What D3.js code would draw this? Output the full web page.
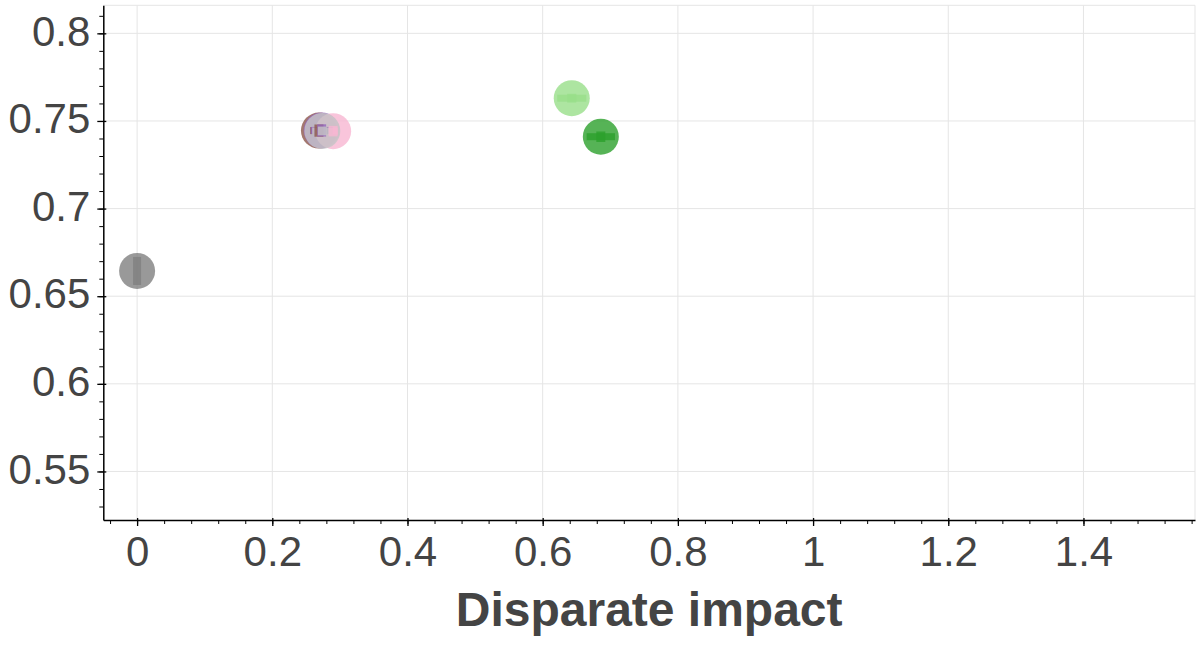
<!DOCTYPE html>
<html>
<head>
<meta charset="utf-8">
<script src="https://cdn.jsdelivr.net/npm/d3@7"></script>
<style>
  body { margin: 0; background: #fff; }
  svg { display: block; font-family: "Liberation Sans", Arial, Helvetica, sans-serif; }
  .grid line { stroke: #e5e5e5; stroke-width: 1; }
  .axis path, .axis line { stroke: #000; }
  .axis path { stroke-width: 1.5; }
  .axis text { fill: #444; font-size: 42px; }
</style>
</head>
<body>
<svg id="chart"></svg>
<script>
// Data
const seriesNames = ["gray", "brown", "purple", "pink", "silver", "lightgreen", "green"];
const xValues = [0.000, 0.269, 0.273, 0.290, 0.274, 0.643, 0.686];
const yValues = [0.6644, 0.7445, 0.7446, 0.7442, 0.7443, 0.7630, 0.7410];
const xErrors = [0.000, 0.013, 0.016, 0.007, 0.015, 0.0215, 0.021];
const yErrors = [0.008, 0.0035, 0.0035, 0.003, 0.0025, 0.0025, 0.003];
const palette = ["#7f7f7f", "#8c564b", "#9467bd", "#f7b6d2", "#c7c7c7", "#98df8a", "#2ca02c"];

const xMajorTicks = [0, 0.2, 0.4, 0.6, 0.8, 1, 1.2, 1.4];
const yMajorTicks = [0.55, 0.6, 0.65, 0.7, 0.75, 0.8];
const xTitle = "Disparate impact";

const width = 1200, height = 650;
const margin = {top: 5.3, right: 5, bottom: 130, left: 103.3};

const svg = d3.select("#chart").attr("width", width).attr("height", height);

const x = d3.scaleLinear().domain([-0.05, 1.565]).range([margin.left, width - margin.right]);
const y = d3.scaleLinear().domain([0.5223, 0.816]).range([height - margin.bottom, margin.top]);
const color = d3.scaleOrdinal().domain(seriesNames).range(palette);

const points = seriesNames.map((name, i) => ({
    name: name, x: xValues[i], y: yValues[i], xErr: xErrors[i], yErr: yErrors[i]
}));

const xMinor = d3.range(-1, 40).map(i => +(i * 0.04).toFixed(2));
const yMinor = d3.range(53, 82).map(i => +(i * 0.01).toFixed(2));
const fmt = d3.format("~g");

// Gridlines
const grid = svg.append("g").attr("class", "grid");
grid.selectAll(".gx").data(xMajorTicks).enter().append("line")
    .attr("x1", d => x(d)).attr("x2", d => x(d))
    .attr("y1", y.range()[0]).attr("y2", y.range()[1]);
grid.selectAll(".gy").data(yMajorTicks).enter().append("line")
    .attr("x1", x.range()[0]).attr("x2", x.range()[1])
    .attr("y1", d => y(d)).attr("y2", d => y(d));
// frame top and right
grid.append("line").attr("x1", x.range()[0]).attr("x2", x.range()[1])
    .attr("y1", y.range()[1]).attr("y2", y.range()[1]);
grid.append("line").attr("x1", x.range()[1]).attr("x2", x.range()[1])
    .attr("y1", y.range()[0]).attr("y2", y.range()[1]);

// Markers
svg.append("g").selectAll("circle")
    .data(points).enter().append("circle")
    .attr("cx", d => x(d.x))
    .attr("cy", d => y(d.y))
    .attr("r", 18)
    .attr("fill", d => color(d.name))
    .attr("fill-opacity", 0.8);

// Error bars (drawn above markers)
const err = svg.append("g").attr("stroke-width", 7).attr("stroke-opacity", 0.8);
err.selectAll(".ex").data(points.filter(d => d.xErr > 0)).enter().append("line")
    .attr("x1", d => x(d.x - d.xErr)).attr("x2", d => x(d.x + d.xErr))
    .attr("y1", d => y(d.y)).attr("y2", d => y(d.y))
    .attr("stroke", d => color(d.name));
err.selectAll(".ey").data(points.filter(d => d.yErr > 0)).enter().append("line")
    .attr("x1", d => x(d.x)).attr("x2", d => x(d.x))
    .attr("y1", d => y(d.y - d.yErr)).attr("y2", d => y(d.y + d.yErr))
    .attr("stroke", d => color(d.name))
    .attr("stroke-width", d => d.xErr > 0 ? 9 : 8);

// Minor ticks
svg.append("g").attr("class", "axis")
    .attr("transform", `translate(0,${y.range()[0]})`)
    .call(d3.axisBottom(x).tickValues(xMinor).tickSize(4).tickSizeOuter(0).tickFormat(""))
    .call(g => g.select(".domain").remove());
svg.append("g").attr("class", "axis")
    .attr("transform", `translate(${x.range()[0]},0)`)
    .call(d3.axisLeft(y).tickValues(yMinor).tickSize(4).tickSizeOuter(0).tickFormat(""))
    .call(g => g.select(".domain").remove());

// Major axes
const xAxis = svg.append("g").attr("class", "axis")
    .attr("transform", `translate(0,${y.range()[0]})`)
    .call(d3.axisBottom(x).tickValues(xMajorTicks).tickSize(6).tickSizeOuter(0).tickFormat(fmt));
xAxis.selectAll(".tick line").attr("y1", -2).attr("stroke-width", 1.3);
xAxis.selectAll(".tick text").attr("y", 16);

const yAxis = svg.append("g").attr("class", "axis")
    .attr("transform", `translate(${x.range()[0]},0)`)
    .call(d3.axisLeft(y).tickValues(yMajorTicks).tickSize(6).tickSizeOuter(0).tickFormat(fmt));
yAxis.selectAll(".tick line").attr("x1", 3).attr("stroke-width", 1.3);
yAxis.selectAll(".tick text").attr("x", -13).attr("dy", "0.28em");

// Axis title
svg.append("text")
    .attr("x", (x.range()[0] + x.range()[1]) / 2)
    .attr("y", 626)
    .attr("text-anchor", "middle")
    .attr("fill", "#444")
    .attr("font-size", 48)
    .attr("font-weight", "bold")
    .text(xTitle);
</script>
</body>
</html>
